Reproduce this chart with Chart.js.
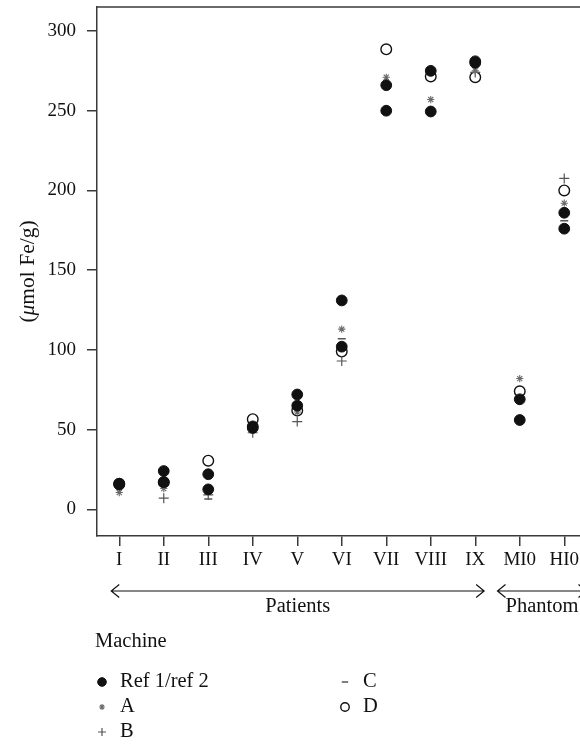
<!DOCTYPE html>
<html>
<head>
<meta charset="utf-8">
<script src="https://cdn.jsdelivr.net/npm/chart.js@4"></script>
<style>
  html, body { margin: 0; padding: 0; background: #fff; overflow: hidden; }
  canvas { display: block; }
</style>
</head>
<body>
<canvas id="chart" width="600" height="744"></canvas>
<script>
// categorias del eje x y valores
const categories = ['I', 'II', 'III', 'IV', 'V', 'VI', 'VII', 'VIII', 'IX', 'MI0', 'HI0'];
const yTicks = [0, 50, 100, 150, 200, 250, 300];

const ref1 = [16, 24, 22, 52, 72, 131, 266, 275, 281, 69, 186];
const ref2 = [15.5, 17, 12.5, 51, 65, 102, 250, 249.5, 280, 56, 176];
const machineA = [10.5, 13, 12.5, 51, 61, 113, 271, 257, 275, 82, 192];
const machineB = [16, 7, 9, 48, 55, 93, 250, 275, 274, 69, 207.5];
const machineC = [16, 17, 6.5, 52, 65, 107, 266, 275, 280, 70, 181];
const machineD = [16, 17, 30.5, 56.5, 62, 99, 288.5, 271.5, 271, 74, 200];

const groups = [
  { label: 'Patients', from: 0, to: 8, ext: [0.18, 0.2] },
  { label: 'Phantom', from: 9, to: 10, ext: [0.5, 0.5] }
];

const FONT = '"Liberation Serif", "DejaVu Serif", serif';
const AXIS = '#3a3a3a';
const TXT = '20.5px ' + FONT;

function pts(values) {
  return values.map((v, i) => ({ x: categories[i], y: v }));
}

const datasets = [
  { label: 'Ref 1/ref 2', data: pts(ref1).concat(pts(ref2)), pointStyle: 'circle',
    pointRadius: 5.4, backgroundColor: '#111', borderColor: '#111', borderWidth: 1 },
  { label: 'A', data: pts(machineA), pointStyle: 'star',
    pointRadius: 3.6, backgroundColor: 'rgba(0,0,0,0)', borderColor: '#6a6a6a', borderWidth: 1.1 },
  { label: 'B', data: pts(machineB), pointStyle: 'cross',
    pointRadius: 5, backgroundColor: 'rgba(0,0,0,0)', borderColor: '#555', borderWidth: 1.2 },
  { label: 'C', data: pts(machineC), pointStyle: 'line',
    pointRadius: 4, backgroundColor: 'rgba(0,0,0,0)', borderColor: '#555', borderWidth: 1.5 },
  { label: 'D', data: pts(machineD), pointStyle: 'circle',
    pointRadius: 5.3, backgroundColor: 'rgba(0,0,0,0)', borderColor: '#111', borderWidth: 1.4 }
];
datasets.forEach(d => {
  d.showLine = false;
  d.pointHoverRadius = d.pointRadius;
  d.pointBorderWidth = d.borderWidth;
});

// textos, flechas, borde superior y leyenda
const extras = {
  id: 'extras',
  afterDraw(chart) {
    const ctx = chart.ctx;
    const area = chart.chartArea;
    const xs = chart.scales.x;
    ctx.save();

    // borde superior de la caja
    ctx.strokeStyle = AXIS;
    ctx.lineWidth = 1.5;
    ctx.beginPath();
    ctx.moveTo(area.left - 0.75, area.top);
    ctx.lineTo(area.right, area.top);
    ctx.stroke();

    // titulo del eje y
    ctx.fillStyle = '#111';
    ctx.textBaseline = 'middle';
    ctx.translate(28, (area.top + area.bottom) / 2);
    ctx.rotate(-Math.PI / 2);
    const parts = [['(', ''], ['μ', 'italic '], ['mol Fe/g)', '']];
    let total = 0;
    parts.forEach(p => { ctx.font = p[1] + '21.5px ' + FONT; total += ctx.measureText(p[0]).width; });
    let px = -total / 2;
    ctx.textAlign = 'left';
    parts.forEach(p => {
      ctx.font = p[1] + '21.5px ' + FONT;
      ctx.fillText(p[0], px, 0);
      px += ctx.measureText(p[0]).width;
    });
    ctx.setTransform(1, 0, 0, 1, 0, 0);

    // flechas de grupos
    const step = xs.getPixelForValue(1) - xs.getPixelForValue(0);
    const ay = 591;
    ctx.strokeStyle = '#111';
    ctx.lineWidth = 1.2;
    ctx.font = TXT;
    ctx.textAlign = 'center';
    groups.forEach(g => {
      const x1 = xs.getPixelForValue(g.from) - g.ext[0] * step;
      const x2 = xs.getPixelForValue(g.to) + g.ext[1] * step;
      ctx.beginPath();
      ctx.moveTo(x1, ay); ctx.lineTo(x2, ay);
      ctx.moveTo(x1 + 8, ay - 6.5); ctx.lineTo(x1, ay); ctx.lineTo(x1 + 8, ay + 6.5);
      ctx.moveTo(x2 - 8, ay - 6.5); ctx.lineTo(x2, ay); ctx.lineTo(x2 - 8, ay + 6.5);
      ctx.stroke();
      ctx.fillText(g.label, (x1 + x2) / 2, 607);
    });

    // leyenda
    ctx.textAlign = 'left';
    ctx.fillText('Machine', 95, 642);
    chart.data.datasets.forEach((d, i) => {
      const col = Math.floor(i / 3);
      const row = i % 3;
      const mx = col === 0 ? 102 : 345;
      const my = 682 + row * 25;
      ctx.fillStyle = d.backgroundColor;
      ctx.strokeStyle = d.borderColor;
      ctx.lineWidth = d.borderWidth;
      Chart.helpers.drawPoint(ctx, {
        pointStyle: d.pointStyle, radius: d.pointRadius * 0.8,
        rotation: 0, borderWidth: d.borderWidth
      }, mx, my);
      ctx.fillStyle = '#111';
      ctx.fillText(d.label, mx + 18, my);
    });
    ctx.restore();
  }
};

function noPad(s) {
  s.paddingTop = 0; s.paddingBottom = 0; s.paddingLeft = 0; s.paddingRight = 0;
}

const ctx = document.getElementById('chart').getContext('2d');
new Chart(ctx, {
  type: 'line',
  data: { labels: categories, datasets: datasets },
  options: {
    responsive: false,
    animation: false,
    events: [],
    layout: { padding: { top: 7, right: 13.5, bottom: 168, left: 0 } },
    plugins: { legend: { display: false }, tooltip: { enabled: false } },
    scales: {
      x: {
        type: 'category',
        labels: categories,
        offset: true,
        grid: { display: true, drawOnChartArea: false, drawTicks: true, tickLength: 10,
                offset: false, color: AXIS, lineWidth: 1.5 },
        border: { display: true, color: AXIS, width: 1.5 },
        ticks: { color: '#111', font: { family: FONT, size: 19 }, padding: 3,
                 maxRotation: 0, autoSkip: false },
        afterFit: s => { s.height = 40; noPad(s); }
      },
      y: {
        min: -16.75,
        max: 315.05,
        afterBuildTicks: s => { s.ticks = yTicks.map(v => ({ value: v })); },
        grid: { display: true, drawOnChartArea: false, drawTicks: true, tickLength: 10,
                color: AXIS, lineWidth: 1.5 },
        border: { display: true, color: AXIS, width: 1.5 },
        ticks: { color: '#111', font: { family: FONT, size: 19 }, padding: 11 },
        afterFit: s => { s.width = 97; noPad(s); }
      }
    }
  },
  plugins: [extras]
});
</script>
</body>
</html>
